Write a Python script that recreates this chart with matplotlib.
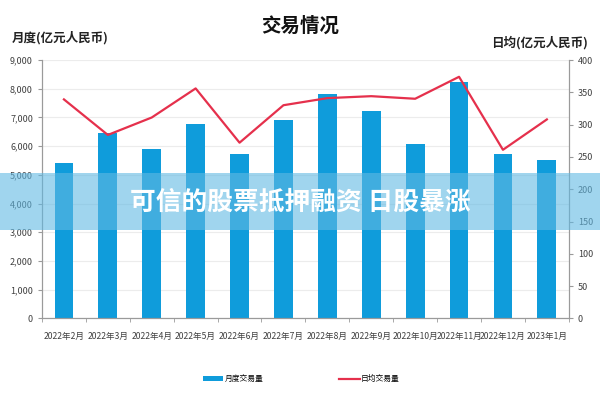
import matplotlib
matplotlib.use('Agg')
import matplotlib.pyplot as plt
from matplotlib.patches import Rectangle
from matplotlib.ticker import FuncFormatter
import numpy as np

plt.rcParams['font.family'] = ['Noto Sans CJK SC', 'DejaVu Sans']

# data
months = ['2022年2月', '2022年3月', '2022年4月', '2022年5月', '2022年6月', '2022年7月',
          '2022年8月', '2022年9月', '2022年10月', '2022年11月', '2022年12月', '2023年1月']
monthly_volume = [5420, 6470, 5900, 6760, 5730, 6910, 7820, 7240, 6090, 8250, 5740, 5530]
daily_volume = [339, 284, 311, 356, 272, 330, 341, 344, 340, 374, 261, 308]

bar_color = '#0f9cdb'
line_color = '#e5304c'
axis_gray = '#9a9a9a'
text_gray = '#404040'

fig = plt.figure(figsize=(6, 4), dpi=100)
ax = fig.add_axes([0.07, 0.204, 0.878, 0.646])
ax2 = ax.twinx()

x = np.arange(len(months))
b = ax.bar(x, monthly_volume, width=0.43, color=bar_color, zorder=2, label='月度交易量')
l, = ax2.plot(x, daily_volume, color=line_color, lw=1.6, zorder=3, label='日均交易量')

ax.set_xlim(-0.5, len(months) - 0.5)
ax.set_ylim(0, 9000)
ax2.set_ylim(0, 400)
ax.set_yticks(np.arange(0, 9001, 1000))
ax2.set_yticks(np.arange(0, 401, 50))
ax.yaxis.set_major_formatter(FuncFormatter(lambda v, p: f'{int(v):,}'))
ax.grid(axis='y', color='#ececec', lw=0.8, zorder=0)
ax.set_axisbelow(True)

ax.set_xticks(x)
ax.set_xticklabels(months, fontsize=6.2, color=text_gray)
ax.set_xticks(np.arange(-0.5, len(months)), minor=True)
ax.tick_params(axis='x', which='major', length=0, pad=10)
ax.tick_params(axis='x', which='minor', length=3, color=axis_gray)
ax.tick_params(axis='y', labelsize=6.5, labelcolor=text_gray, length=3, color=axis_gray)
ax2.tick_params(axis='y', labelsize=6.5, labelcolor=text_gray, length=3, color=axis_gray)

for a in (ax, ax2):
    a.spines['top'].set_visible(False)
    for s in ('left', 'right', 'bottom'):
        a.spines[s].set_color(axis_gray)
        a.spines[s].set_linewidth(0.8)

fig.text(0.5, 0.935, '交易情况', ha='center', va='center', fontsize=14, fontweight='bold', color='#111111')
fig.text(0.02, 0.905, '月度(亿元人民币)', ha='left', va='center', fontsize=9, fontweight='bold', color='#222222')
fig.text(0.98, 0.894, '日均(亿元人民币)', ha='right', va='center', fontsize=9, fontweight='bold', color='#222222')

fig.legend([b, l], ['月度交易量', '日均交易量'], loc='center', bbox_to_anchor=(0.502, 0.052),
           ncol=2, frameon=False, fontsize=5.6, handlelength=2.6, columnspacing=9.8,
           handletextpad=0.2)

# watermark band
fig.patches.append(Rectangle((0, 0.425), 1, 0.1425, transform=fig.transFigure,
                             facecolor='#61b9e3', alpha=0.6, edgecolor='none', zorder=5))
fig.text(0.5, 0.494, '可信的股票抵押融资 日股暴涨', ha='center', va='center', fontsize=18.5,
         fontweight='bold', color='white', zorder=6)

fig.savefig('out.png', dpi=100)
